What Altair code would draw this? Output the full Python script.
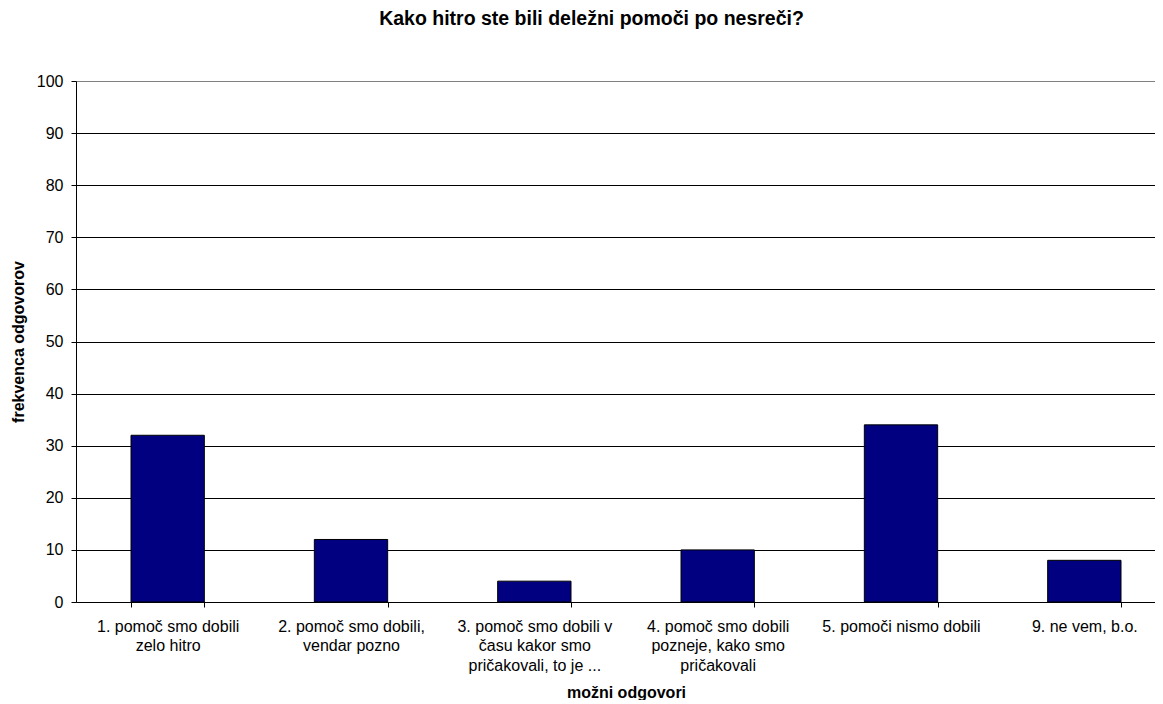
import altair as alt
import pandas as pd

categories = [
    "1. pomoč smo dobili|zelo hitro",
    "2. pomoč smo dobili,|vendar pozno",
    "3. pomoč smo dobili v|času kakor smo|pričakovali, to je ...",
    "4. pomoč smo dobili|pozneje, kako smo|pričakovali",
    "5. pomoči nismo dobili",
    "9. ne vem, b.o.",
]
values = [32, 12, 4, 10, 34, 8]
y_ticks = list(range(0, 101, 10))

df = pd.DataFrame({"odgovor": categories, "frekvenca": values})

FONT = "Liberation Sans"

chart = (
    alt.Chart(df)
    .mark_bar(color="#000080", stroke="black", strokeWidth=1)
    .encode(
        x=alt.X(
            "odgovor:N",
            sort=None,
            scale=alt.Scale(range=[0, 1100], paddingInner=0.6, paddingOuter=0.3),
            axis=alt.Axis(
                title="možni odgovori",
                labelAngle=0,
                labelExpr="split(datum.label, '|')",
                labelFont=FONT,
                labelFontSize=16,
                labelColor="black",
                labelLineHeight=19.5,
                labelPadding=11,
                labelBaseline="top",
                tickBand="extent",
                tickColor="black",
                tickSize=5,
                domainColor="black",
                titleFont=FONT,
                titleFontSize=16,
                titleFontWeight="bold",
                titleColor="black",
                titleBaseline="alphabetic",
                titleX=550,
                titleY=95,
                grid=False,
            ),
        ),
        y=alt.Y(
            "frekvenca:Q",
            scale=alt.Scale(domain=[0, 100], nice=False),
            axis=alt.Axis(
                title="frekvenca odgovorov",
                values=y_ticks,
                labelFont=FONT,
                labelFontSize=16,
                labelColor="black",
                labelPadding=8,
                tickColor="black",
                tickSize=5,
                domainColor="black",
                gridColor={"condition": {"test": "datum.value === 100", "value": "#808080"}, "value": "black"},
                gridOpacity=1,
                gridWidth=1,
                titleFont=FONT,
                titleFontSize=16,
                titleFontWeight="bold",
                titleColor="black",
                titleBaseline="alphabetic",
                titleX=-53,
            ),
        ),
    )
    .properties(
        width=1079,
        height=521,
        title=alt.TitleParams(
            "Kako hitro ste bili deležni pomoči po nesreči?",
            font=FONT,
            fontSize=19.5,
            fontWeight="bold",
            color="black",
            dx=-24,
            offset=44,
        ),
        padding={"left": 68, "top": 73, "right": 0, "bottom": 98},
        autosize=alt.AutoSizeParams(type="none"),
    )
    .configure_view(fill="#C0C0C0", stroke="#808080", strokeWidth=1)
    .configure(background="white")
)

chart.save("out.html", embed_options={"renderer": "svg", "actions": False})
